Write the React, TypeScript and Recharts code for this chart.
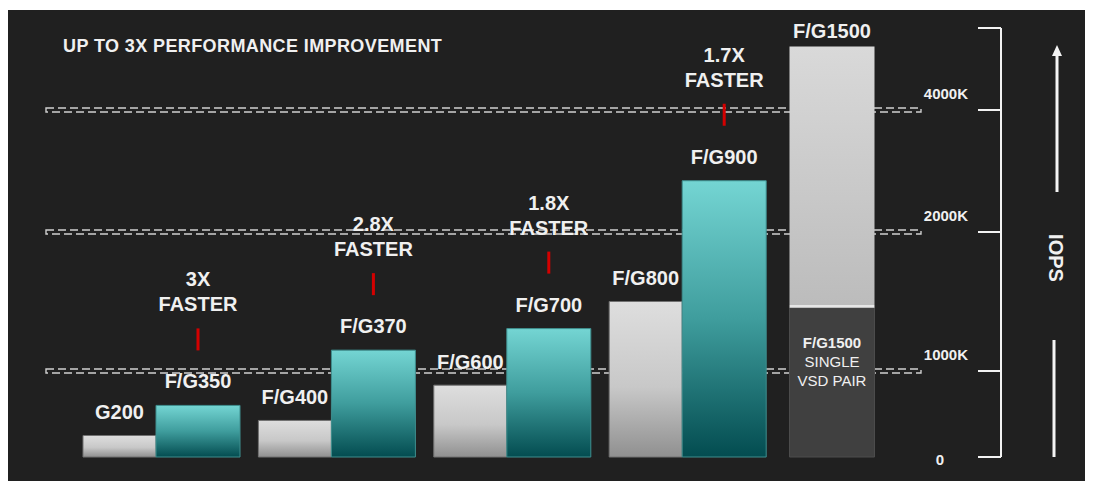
import React from "react";
import { ComposedChart, Bar, XAxis, YAxis, ReferenceArea, LabelList } from "recharts";

// ---------- data (IOPS in thousands) ----------
const GROUPS = ["g1", "g2", "g3", "g4", "g5"];
const PREV_LABELS = ["G200", "F/G400", "F/G600", "F/G800", null];
const PREV_IOPS_K = [250, 425, 835, 1500, null];
const NEXT_LABELS = ["F/G350", "F/G370", "F/G700", "F/G900", null];
const NEXT_IOPS_K = [600, 1150, 1305, 2840, null];
const SPEEDUP = ["3X", "2.8X", "1.8X", "1.7X", null];
const FLAGSHIP_LABELS = [null, null, null, null, "F/G1500"];
const FLAGSHIP_IOPS_K = [null, null, null, null, 5040];
const SINGLE_PAIR_IOPS_K = [null, null, null, null, 1455];
const SINGLE_PAIR_LINES = ["F/G1500", "SINGLE", "VSD PAIR"];

const TICK_VALUES_K = [0, 1000, 2000, 4000];
const TICK_LABELS = ["0", "1000K", "2000K", "4000K"];
const AXIS_MAX_K = 5344;
const GUIDE_VALUES_K = [1000, 2000, 4000];

// broken value axis: stops of the IOPS axis and where each sits in axis units
const SCALE_STOPS_K = [0, 1000, 2000, 4000];
const SCALE_UNITS = [0, 86, 225, 347];

function toAxis(v: number | null): number | null {
  if (v == null) return null;
  const s = SCALE_STOPS_K;
  const u = SCALE_UNITS;
  let i = 0;
  while (i < s.length - 2 && v > s[i + 1]) i++;
  return u[i] + ((v - s[i]) * (u[i + 1] - u[i])) / (s[i + 1] - s[i]);
}

const rows = GROUPS.map((g, i) => ({
  group: g,
  prev: PREV_IOPS_K[i],
  prevLabel: PREV_LABELS[i],
  next: NEXT_IOPS_K[i],
  nextLabel: NEXT_LABELS[i],
  speedup: SPEEDUP[i],
  single: SINGLE_PAIR_IOPS_K[i],
  flagship: FLAGSHIP_IOPS_K[i],
  flagshipLabel: FLAGSHIP_LABELS[i],
}));

const FONT = "'Liberation Sans', Arial, Helvetica, sans-serif";
const TXT = "#f0f0f0";

function PrevLabel(props: any) {
  const { x, y, width, value } = props;
  if (value == null) return null;
  return (
    <text x={x + width / 2} y={y - 16} textAnchor="middle" fill={TXT} fontFamily={FONT} fontWeight="bold" fontSize={20}>
      {value}
    </text>
  );
}

function NextLabel(props: any) {
  const { x, y, width, value, index } = props;
  if (value == null) return null;
  const cx = x + width / 2;
  return (
    <g>
      <text x={cx} y={y - 17} textAnchor="middle" fill={TXT} fontFamily={FONT} fontWeight="bold" fontSize={20}>
        {value}
      </text>
      <rect x={cx - 1.5} y={y - 77} width={3} height={22} fill="#d40000" />
      <text x={cx} y={y - 94} textAnchor="middle" fill={TXT} fontFamily={FONT} fontWeight="bold" fontSize={20}>
        FASTER
      </text>
      <text x={cx} y={y - 119} textAnchor="middle" fill={TXT} fontFamily={FONT} fontWeight="bold" fontSize={20}>
        {rows[index]?.speedup}
      </text>
    </g>
  );
}

function FlagshipLabel(props: any) {
  const { x, y, width, value } = props;
  if (value == null) return null;
  return (
    <text x={x + width / 2} y={y - 9} textAnchor="middle" fill={TXT} fontFamily={FONT} fontWeight="bold" fontSize={20}>
      {value}
    </text>
  );
}

function SingleLabel(props: any) {
  const { x, y, width, value } = props;
  if (value == null) return null;
  const cx = x + width / 2;
  return (
    <g fontFamily={FONT} fontSize={15} fill={TXT} textAnchor="middle">
      {SINGLE_PAIR_LINES.map((t, i) => (
        <text key={t} x={cx} y={y + 40 + i * 19} fontWeight={i === 0 ? "bold" : "normal"}>
          {t}
        </text>
      ))}
    </g>
  );
}

function IopsTick(props: any) {
  const { x, y, payload } = props;
  const idx = TICK_VALUES_K.findIndex((v) => Math.abs((toAxis(v) as number) - payload.value) < 0.01);
  if (idx < 0) return null;
  const isZero = TICK_VALUES_K[idx] === 0;
  return (
    <text
      x={isZero ? x - 30 : x - 2}
      y={isZero ? y + 8 : y - 11}
      textAnchor={isZero ? "middle" : "end"}
      fill={TXT}
      fontFamily={FONT}
      fontWeight="bold"
      fontSize={15}
    >
      {TICK_LABELS[idx]}
    </text>
  );
}

export default function App() {
  const axisTicks = [...TICK_VALUES_K, AXIS_MAX_K].map((v) => toAxis(v) as number);
  return (
    <div style={{ position: "relative", top: 2, width: 1085, height: 473, background: "#202020", overflow: "hidden" }}>
      <ComposedChart
        width={1085}
        height={473}
        data={rows}
        margin={{ top: 18, right: 92, bottom: 26, left: 32 }}
        barGap={0}
      >
        <defs>
          <linearGradient id="grayGrad" x1="0" y1="0" x2="0" y2="1">
            <stop offset="0%" stopColor="#dedede" />
            <stop offset="55%" stopColor="#c8c8c8" />
            <stop offset="100%" stopColor="#909090" />
          </linearGradient>
          <linearGradient id="tealGrad" x1="0" y1="0" x2="0" y2="1">
            <stop offset="0%" stopColor="#74d5d3" />
            <stop offset="50%" stopColor="#3f9d9d" />
            <stop offset="100%" stopColor="#034c50" />
          </linearGradient>
          <linearGradient id="flagGrad" x1="0" y1="0" x2="0" y2="1">
            <stop offset="0%" stopColor="#d9d9d9" />
            <stop offset="98.8%" stopColor="#bcbcbc" />
            <stop offset="98.8%" stopColor="#e6e6e6" />
            <stop offset="100%" stopColor="#e6e6e6" />
          </linearGradient>
        </defs>

        <XAxis xAxisId="main" dataKey="group" type="category" hide padding={{ left: 34, right: 50 }} />
        <XAxis xAxisId="single" dataKey="group" type="category" hide padding={{ left: 4.5, right: 81.5 }} />
        <XAxis xAxisId="frame" dataKey="group" type="category" hide padding={{ left: 6, right: 80 }} />
        <YAxis
          yAxisId="iops"
          orientation="right"
          mirror
          type="number"
          domain={[0, toAxis(AXIS_MAX_K) as number]}
          ticks={axisTicks}
          interval={0}
          tickSize={23}
          tickMargin={8}
          axisLine={{ stroke: "#f2f2f2", strokeWidth: 2 }}
          tickLine={{ stroke: "#f2f2f2", strokeWidth: 2 }}
          tick={(p: any) => <IopsTick {...p} />}
        />

        {GUIDE_VALUES_K.map((v) => (
          <ReferenceArea
            key={v}
            xAxisId="frame"
            yAxisId="iops"
            x1={GROUPS[0]}
            x2={GROUPS[GROUPS.length - 1]}
            y1={(toAxis(v) as number) - 2}
            y2={(toAxis(v) as number) + 2}
            fill="none"
            fillOpacity={0}
            stroke="#cfcfcf"
            strokeWidth={1.4}
            strokeDasharray="8 4"
            ifOverflow="visible"
          />
        ))}

        <Bar
          xAxisId="main"
          yAxisId="iops"
          dataKey={(d: any) => toAxis(d.prev)}
          barSize={73}
          fill="url(#grayGrad)"
          stroke="#727272"
          strokeWidth={1}
          isAnimationActive={false}
        >
          <LabelList dataKey="prevLabel" content={(p: any) => <PrevLabel {...p} />} />
        </Bar>
        <Bar
          xAxisId="main"
          yAxisId="iops"
          dataKey={(d: any) => toAxis(d.next)}
          barSize={84}
          fill="url(#tealGrad)"
          stroke="#3f8f8f"
          strokeWidth={1}
          isAnimationActive={false}
        >
          <LabelList dataKey="nextLabel" content={(p: any) => <NextLabel {...p} />} />
        </Bar>

        <Bar
          xAxisId="single"
          yAxisId="iops"
          stackId="flag"
          dataKey={(d: any) => toAxis(d.single)}
          barSize={85}
          fill="#404040"
          stroke="#4c4c4c"
          strokeWidth={1}
          isAnimationActive={false}
        >
          <LabelList dataKey="flagshipLabel" content={(p: any) => <SingleLabel {...p} />} />
        </Bar>
        <Bar
          xAxisId="single"
          yAxisId="iops"
          stackId="flag"
          dataKey={(d: any) =>
            d.flagship == null ? null : (toAxis(d.flagship) as number) - (toAxis(d.single) as number)
          }
          barSize={85}
          fill="url(#flagGrad)"
          isAnimationActive={false}
        >
          <LabelList dataKey="flagshipLabel" content={(p: any) => <FlagshipLabel {...p} />} />
        </Bar>
      </ComposedChart>

      <svg
        width={1085}
        height={473}
        style={{ position: "absolute", left: 0, top: 0, pointerEvents: "none" }}
      >
        <text x={55} y={42} fill={TXT} fontFamily={FONT} fontWeight="bold" fontSize={18} letterSpacing={0.4}>
          UP TO 3X PERFORMANCE IMPROVEMENT
        </text>
        <line x1={1049} y1={182} x2={1049} y2={44} stroke="#f4f4f4" strokeWidth={3} />
        <polygon points="1049,35 1044,46 1054,46" fill="#f4f4f4" />
        <line x1={1046} y1={330} x2={1046} y2={447} stroke="#f4f4f4" strokeWidth={3} />
        <text
          x={1048}
          y={248}
          transform="rotate(90 1048 248)"
          textAnchor="middle"
          dominantBaseline="central"
          fill={TXT}
          fontFamily={FONT}
          fontWeight="bold"
          fontSize={20}
        >
          IOPS
        </text>
      </svg>
    </div>
  );
}
